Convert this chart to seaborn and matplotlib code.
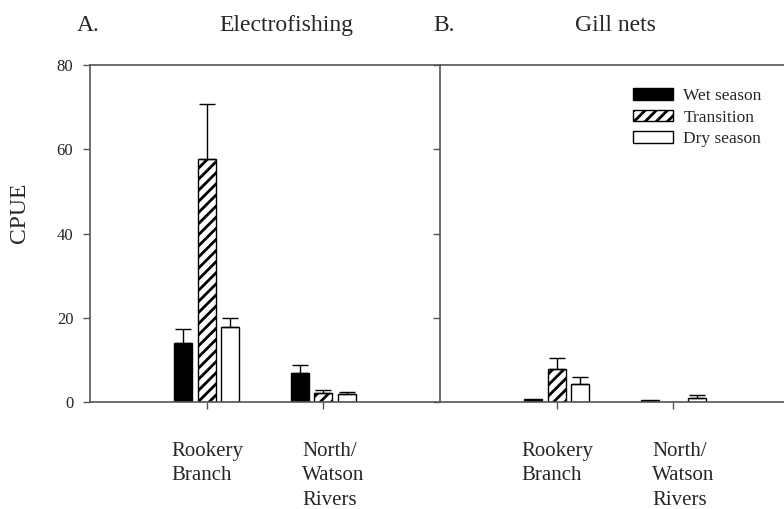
import numpy as np
import pandas as pd
import matplotlib
matplotlib.use('Agg')
import matplotlib.pyplot as plt
import matplotlib.transforms as mtransforms
import seaborn as sns

# data (CPUE means and upper SE)
sites = ['Rookery\nBranch', 'North/\nWatson\nRivers']
seasons = ['Wet season', 'Transition', 'Dry season']

ef_wet = [14.1, 6.8]
ef_wet_se = [3.2, 2.0]
ef_trans = [57.7, 2.1]
ef_trans_se = [13.0, 0.7]
ef_dry = [17.9, 1.8]
ef_dry_se = [2.1, 0.6]

gn_wet = [0.6, 0.5]
gn_wet_se = [0.0, 0.0]
gn_trans = [7.9, 0.0]
gn_trans_se = [2.6, 0.0]
gn_dry = [4.3, 1.0]
gn_dry_se = [1.6, 0.7]

sns.set_style('ticks')
plt.rcParams['font.family'] = ['Liberation Serif', 'DejaVu Serif']
plt.rcParams['hatch.linewidth'] = 2.0
plt.rcParams['hatch.color'] = 'black'

spine_col = '#555555'
W, H = 784, 509


def make_df(wet, trans, dry):
    rows = []
    for s, vals in zip(seasons, [wet, trans, dry]):
        for site, v in zip(sites, vals):
            rows.append({'site': site, 'season': s, 'cpue': v})
    return pd.DataFrame(rows)


def panel(ax, df, errs, show_ylab):
    sns.barplot(data=df, x='site', y='cpue', hue='season', order=sites,
                hue_order=seasons, palette=['black', 'white', 'white'],
                edgecolor='black', linewidth=1.0, width=0.6, gap=0.22,
                errorbar=None, legend=False, ax=ax)
    for p in ax.containers[1].patches:
        p.set_hatch('///')
    for cont, se in zip(ax.containers, errs):
        for p, e in zip(cont.patches, se):
            if e <= 0:
                continue
            xc = p.get_x() + p.get_width() / 2
            top = p.get_height()
            ax.errorbar([xc], [top], yerr=[[0], [e]], fmt='none',
                        ecolor='black', elinewidth=1.0, capsize=6, capthick=1.0)
    ax.set_xlim(-1, 2)
    ax.set_ylim(0, 80)
    ax.set_yticks([0, 20, 40, 60, 80])
    ax.set_xticks([0, 1])
    ax.set_xticklabels(['', ''])
    ax.set_xlabel('')
    ax.set_ylabel('')
    ax.tick_params(axis='both', direction='out', length=5, width=1.0,
                   color=spine_col, labelsize=12, pad=7)
    for sp in ax.spines.values():
        sp.set_color(spine_col)
        sp.set_linewidth(1.2)
    ax.spines['right'].set_visible(False)
    if not show_ylab:
        ax.tick_params(axis='y', labelleft=False)
    trans = mtransforms.blended_transform_factory(ax.transData, ax.transAxes)
    for i, (lab, off) in enumerate(zip(sites, [-0.30, -0.18])):
        ax.text(i + off, -(442 - 402) / 337, lab, transform=trans,
                ha='left', va='top', fontsize=15, linespacing=1.38)


fig = plt.figure(figsize=(W / 100, H / 100), dpi=100)
bot = 1 - 402 / H
hgt = 337 / H
ax1 = fig.add_axes([90 / W, bot, 350 / W, hgt])
ax2 = fig.add_axes([440 / W, bot, 350 / W, hgt])

panel(ax1, make_df(ef_wet, ef_trans, ef_dry), [ef_wet_se, ef_trans_se, ef_dry_se], True)
panel(ax2, make_df(gn_wet, gn_trans, gn_dry), [gn_wet_se, gn_trans_se, gn_dry_se], False)

leg = ax2.legend(ax2.containers, seasons, loc='upper left', frameon=False,
                 bbox_to_anchor=(633 / W, 1 - 88 / H), bbox_transform=fig.transFigure,
                 fontsize=12.5, handlelength=2.3, handleheight=0.65,
                 handletextpad=0.6, labelspacing=0.32, borderpad=0, borderaxespad=0)

fig.text(77 / W, 1 - 31 / H, 'A.', fontsize=17, ha='left', va='baseline')
fig.text(286 / W, 1 - 31 / H, 'Electrofishing', fontsize=17, ha='center', va='baseline')
fig.text(433 / W, 1 - 31 / H, 'B.', fontsize=17, ha='left', va='baseline')
fig.text(615 / W, 1 - 31 / H, 'Gill nets', fontsize=17, ha='center', va='baseline')
fig.text(20 / W, 1 - 213 / H, 'CPUE', fontsize=17, rotation=90, ha='center', va='center')

fig.savefig('out.png', dpi=100)
